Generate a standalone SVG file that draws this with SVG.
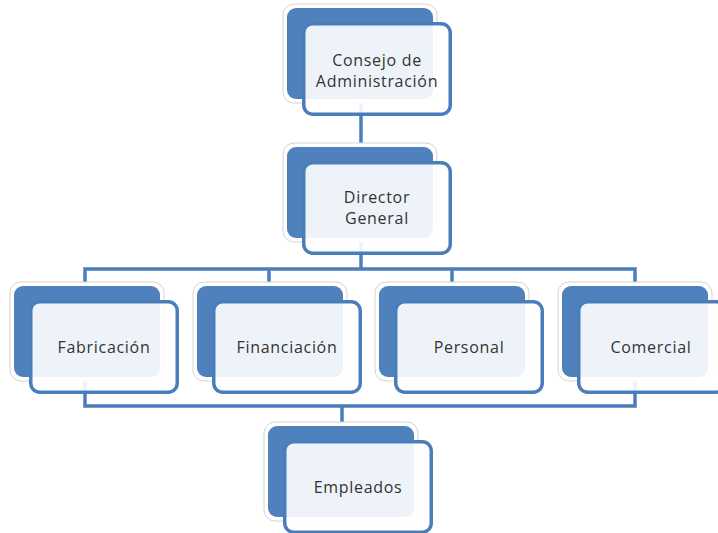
<svg xmlns="http://www.w3.org/2000/svg" width="718" height="533" viewBox="0 0 718 533">
<style>
.halo{fill:#ffffff;stroke:#d4d4d4;stroke-width:1}
.back{fill:#4F81BD}
.front{fill:#ffffff;fill-opacity:0.9;stroke:#4A7EBB;stroke-width:3.5}
.lbl{font-family:"Open Sans","Liberation Sans",sans-serif;font-size:16px;fill:#333333;text-anchor:middle;letter-spacing:0.7px}
.conn{fill:none;stroke:#4A7EBB;stroke-width:3.5}
</style>
<rect width="718" height="533" fill="#ffffff"/>
<g id="connectors">
<line class="conn" x1="361" y1="100" x2="361" y2="160"/>
<line class="conn" x1="361" y1="240" x2="361" y2="269"/>
<polyline class="conn" points="85,300 85,269 635,269 635,300"/>
<line class="conn" x1="269" y1="269" x2="269" y2="290"/>
<line class="conn" x1="452" y1="269" x2="452" y2="290"/>
<polyline class="conn" points="85,380 85,406 635,406 635,380"/>
<line class="conn" x1="342" y1="406" x2="342" y2="440"/>
</g>
<g id="n-consejo">
<rect class="halo" x="283" y="4" width="154" height="99" rx="11"/>
<rect class="back" x="287" y="8" width="146" height="91" rx="9"/>
<rect class="front" x="303.75" y="23.75" width="146.5" height="90.5" rx="9"/>
<text class="lbl" x="377" y="66">Consejo de</text>
<text class="lbl" x="377" y="87">Administración</text>
</g>
<g id="n-director">
<rect class="halo" x="283" y="143" width="154" height="99" rx="11"/>
<rect class="back" x="287" y="147" width="146" height="91" rx="9"/>
<rect class="front" x="303.75" y="162.75" width="146.5" height="90.5" rx="9"/>
<text class="lbl" x="377" y="203">Director</text>
<text class="lbl" x="377" y="224">General</text>
</g>
<g id="n-fabricacion">
<rect class="halo" x="10" y="282" width="154" height="99" rx="11"/>
<rect class="back" x="14" y="286" width="146" height="91" rx="9"/>
<rect class="front" x="30.75" y="301.75" width="146.5" height="90.5" rx="9"/>
<text class="lbl" x="104" y="353">Fabricación</text>
</g>
<g id="n-financiacion">
<rect class="halo" x="193" y="282" width="154" height="99" rx="11"/>
<rect class="back" x="197" y="286" width="146" height="91" rx="9"/>
<rect class="front" x="213.75" y="301.75" width="146.5" height="90.5" rx="9"/>
<text class="lbl" x="287" y="353">Financiación</text>
</g>
<g id="n-personal">
<rect class="halo" x="375" y="282" width="154" height="99" rx="11"/>
<rect class="back" x="379" y="286" width="146" height="91" rx="9"/>
<rect class="front" x="395.75" y="301.75" width="146.5" height="90.5" rx="9"/>
<text class="lbl" x="469" y="353">Personal</text>
</g>
<g id="n-comercial">
<rect class="halo" x="558" y="282" width="154" height="99" rx="11"/>
<rect class="back" x="562" y="286" width="146" height="91" rx="9"/>
<rect class="front" x="578.75" y="301.75" width="146.5" height="90.5" rx="9"/>
<text class="lbl" x="651" y="353">Comercial</text>
</g>
<g id="n-empleados">
<rect class="halo" x="264" y="422" width="154" height="99" rx="11"/>
<rect class="back" x="268" y="426" width="146" height="91" rx="9"/>
<rect class="front" x="284.75" y="441.75" width="146.5" height="90.5" rx="9"/>
<text class="lbl" x="358" y="493">Empleados</text>
</g>
</svg>
